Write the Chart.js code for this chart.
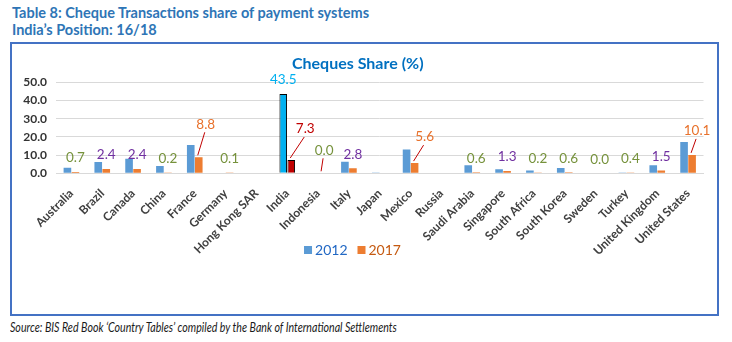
<!DOCTYPE html>
<html>
<head>
<meta charset="utf-8">
<script src="https://cdn.jsdelivr.net/npm/chart.js@4"></script>
<style>
    body { margin: 0; background: #fff; width: 732px; height: 342px; position: relative; overflow: hidden; font-family: Lato, sans-serif; }
    .cabecalho { position: absolute; left: 12px; top: 4px; color: #2e75b6; font-weight: bold; font-size: 14.5px; line-height: 17px; }
    .caixa { position: absolute; left: 10px; top: 42px; width: 705px; height: 270px; border: 2px solid #4472c4; }
    .grafico { position: absolute; left: 0; top: 0; width: 705px; height: 270px; }
    .fonte { position: absolute; left: 10px; top: 320px; font-style: italic; font-size: 12.5px; color: #1a1a1a; white-space: nowrap; transform: scaleX(0.85); transform-origin: left top; }
</style>
</head>
<body>
<div class="cabecalho">Table 8: Cheque Transactions share of payment systems<br>India’s Position: 16/18</div>
<div class="caixa">
    <div class="grafico"><canvas id="graficoCheques"></canvas></div>
</div>
<div class="fonte">Source: BIS Red Book ‘Country Tables’ compiled by the Bank of International Settlements</div>

<script>
// dados do gráfico (% das transações feitas com cheque)
const paises = [
    'Australia', 'Brazil', 'Canada', 'China', 'France', 'Germany', 'Hong Kong SAR',
    'India', 'Indonesia', 'Italy', 'Japan', 'Mexico', 'Russia', 'Saudi Arabia',
    'Singapore', 'South Africa', 'South Korea', 'Sweden', 'Turkey', 'United Kingdom', 'United States'
];

const share2012 = [3.1, 6.2, 8.0, 4.0, 15.5, null, null, 43.5, 0.3, 6.4, 0.5, 13.0, null, 4.4, 2.2, 1.5, 2.9, 0.0, 0.5, 4.4, 17.2];
const share2017 = [0.7, 2.4, 2.4, 0.2, 8.8, 0.1, null, 7.3, 0.0, 2.8, null, 5.6, null, 0.6, 1.3, 0.2, 0.6, 0.0, 0.4, 1.5, 10.1];

const anos = ['2012', '2017'];
const ticksY = [0, 10, 20, 30, 40, 50];

// destaque
const destaque = 'India';

// rótulos que foram arrastados para fora da barra (dx, dy em px) -> ganham linha guia
const deslocRotulo = {
    'France': [7, -19],
    'India': [14, -17],
    'Indonesia': [2, -9],
    'Mexico': [10, -12],
    'United States': [5, -10]
};

const corAzul = '#5b9bd5';
const corLaranja = '#ed7d31';
const corTextoLegenda = ['#2268c4', '#c55a11'];

function corRotulo(pais, v) {
    if (pais === destaque) return '#c00000';
    if (v < 1) return '#76923c';
    if (v < 5) return '#7030a0';
    return '#e8712b';
}

//plugin pra escrever os valores em cima das barras
const rotulos = {
    id: 'rotulos',
    afterDatasetsDraw(chart) {
        const ctx = chart.ctx;
        ctx.save();
        ctx.font = '13.5px Lato';
        ctx.textAlign = 'center';
        ctx.textBaseline = 'middle';

        // 2012 só tem rótulo na India
        chart.getDatasetMeta(0).data.forEach((bar, i) => {
            if (paises[i] !== destaque) return;
            ctx.fillStyle = '#00b0f0';
            ctx.fillText(share2012[i].toFixed(1), bar.x, bar.y - 14);
        });

        chart.getDatasetMeta(1).data.forEach((bar, i) => {
            const v = share2017[i];
            if (v === null) return;
            let x = bar.x;
            let y = bar.y - 14;
            const desloc = deslocRotulo[paises[i]];
            if (desloc) {
                x += desloc[0];
                y += desloc[1];
                ctx.strokeStyle = '#c00000';
                ctx.lineWidth = 1;
                ctx.beginPath();
                ctx.moveTo(x - 1, y + 8);
                ctx.lineTo(bar.x - 1, bar.y - 2);
                ctx.stroke();
            }
            ctx.fillStyle = corRotulo(paises[i], v);
            ctx.fillText(v.toFixed(1), x, y);
        });
        ctx.restore();
    }
};

// legenda desenhada na mão, fica por cima da área dos nomes dos países
const legenda = {
    id: 'legenda',
    afterDraw(chart) {
        const ctx = chart.ctx;
        const fundo = [corAzul, corLaranja];
        ctx.save();
        ctx.font = '14px Lato';
        ctx.textBaseline = 'middle';
        const larguras = chart.data.datasets.map(ds => ctx.measureText(ds.label).width);
        const total = larguras.reduce((a, b) => a + b, 0) + 2 * 11 + 10;
        let x = chart.width / 2 - 12 - total / 2;
        const y = 206;
        chart.data.datasets.forEach((ds, i) => {
            ctx.fillStyle = fundo[i];
            ctx.fillRect(x, y - 4, 8, 8);
            ctx.fillStyle = corTextoLegenda[i];
            ctx.fillText(ds.label, x + 11, y);
            x += 11 + larguras[i] + 10;
        });
        ctx.restore();
    }
};

const graficoCh = document.getElementById('graficoCheques');

new Chart(graficoCh, {
    type: 'bar',
    data: {
        labels: paises,
        datasets: [{
            label: anos[0],
            data: share2012,
            backgroundColor: paises.map(p => p === destaque ? '#00b0f0' : corAzul),
            borderColor: '#000',
            borderWidth: paises.map(p => p === destaque ? 1 : 0),
            categoryPercentage: 0.52,
            barPercentage: 0.95
        }, {
            label: anos[1],
            data: share2017,
            backgroundColor: paises.map(p => p === destaque ? '#c00000' : corLaranja),
            borderColor: '#000',
            borderWidth: paises.map(p => p === destaque ? 1 : 0),
            categoryPercentage: 0.52,
            barPercentage: 0.95
        }]
    },
    options: {
        responsive: true,
        maintainAspectRatio: false,
        animation: false,
        layout: {
            padding: { left: 0, right: 13.5, top: 0, bottom: 35.7 }
        },
        plugins: {
            title: {
                display: true,
                text: 'Cheques Share (%)',
                color: '#0070c0',
                font: { family: 'Lato', size: 16, weight: 'bold' },
                padding: { top: 10, bottom: 9 }
            },
            legend: { display: false },
            tooltip: { enabled: false }
        },
        scales: {
            x: {
                grid: { display: false },
                border: { color: '#d9d9d9' },
                ticks: {
                    autoSkip: false,
                    minRotation: 45,
                    maxRotation: 45,
                    padding: 5,
                    color: '#404040',
                    font: { family: 'Lato', size: 12, weight: 'bold' }
                },
                afterFit(scale) { scale.height = 105; }
            },
            y: {
                min: ticksY[0],
                max: ticksY[ticksY.length - 1],
                afterBuildTicks(scale) { scale.ticks = ticksY.map(v => ({ value: v })); },
                grid: { color: '#d9d9d9', drawTicks: false },
                border: { display: false },
                ticks: {
                    padding: 9,
                    color: '#333333',
                    font: { family: 'Lato', size: 12, weight: 'bold' },
                    callback: v => v.toFixed(1)
                },
                afterFit(scale) { scale.width = 44; }
            }
        }
    },
    plugins: [rotulos, legenda]
});
</script>
</body>
</html>
